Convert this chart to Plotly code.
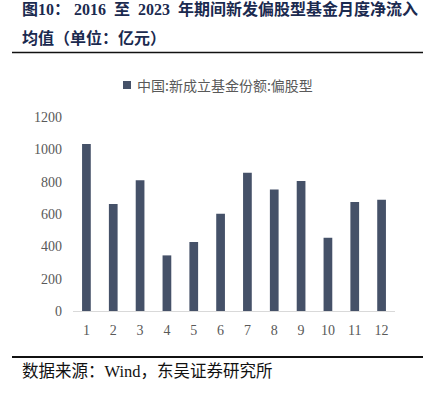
import plotly.graph_objects as go

months = ["1", "2", "3", "4", "5", "6", "7", "8", "9", "10", "11", "12"]
values = [1033, 662, 808, 344, 427, 602, 855, 752, 804, 453, 674, 688]
series_name = "中国:新成立基金份额:偏股型"
title_line1 = "图10：\u00a02016\u00a0\u00a0至\u00a0\u00a02023\u00a0\u00a0年期间新发偏股型基金月度净流入"
title_line2 = "均值（单位：亿元）"
source_text = "数据来源：Wind，东吴证券研究所"
y_ticks = [0, 200, 400, 600, 800, 1000, 1200]

W, H = 428, 393
L, T = 73, 117
R = W - 395
B = H - 311
pw, ph = W - L - R, H - T - B

def px(x):
    return (x - L) / pw

def py(y):
    return (H - B - y) / ph

serif = "Liberation Serif, 'Noto Sans CJK SC', serif"
bar_color = "#455168"

fig = go.Figure()
fig.add_trace(go.Bar(
    x=list(range(1, 13)), y=values, name=series_name,
    marker=dict(color=bar_color, line=dict(width=0)),
    showlegend=False,
))

fig.update_layout(
    width=W, height=H,
    margin=dict(l=L, r=R, t=T, b=B),
    paper_bgcolor="white", plot_bgcolor="white",
    bargap=0.675,
    xaxis=dict(range=[0.5, 12.5], tickmode="array", tickvals=list(range(1, 13)), ticktext=months,
               showgrid=False, zeroline=False, showline=True, linecolor="#d9d9d9", linewidth=1,
               ticks="", ticklabelstandoff=6,
               tickfont=dict(family=serif, size=14, color="#595959")),
    yaxis=dict(range=[0, 1200], tickmode="array", tickvals=y_ticks,
               showgrid=False, zeroline=False, showline=False, ticks="",
               ticklabelstandoff=10,
               tickfont=dict(family=serif, size=14, color="#595959")),
)

# legend (drawn as key square + label)
fig.add_shape(type="rect", xref="paper", yref="paper",
              x0=px(123), x1=px(131), y0=py(89), y1=py(81),
              fillcolor=bar_color, line=dict(width=0))
fig.add_annotation(text=series_name, xref="paper", yref="paper",
                   x=px(135), y=py(85), xanchor="left", yanchor="middle", showarrow=False,
                   font=dict(family="'Noto Sans CJK SC', sans-serif", size=14, color="#595959"))

fig.add_annotation(text="<b>" + title_line1 + "</b>", xref="paper", yref="paper",
                   x=px(20), y=py(9), xanchor="left", yanchor="middle", showarrow=False,
                   font=dict(family=serif, size=16, color="#1b2a4f"))
fig.add_annotation(text="<b>" + title_line2 + "</b>", xref="paper", yref="paper",
                   x=px(20), y=py(38), xanchor="left", yanchor="middle", showarrow=False,
                   font=dict(family=serif, size=16, color="#1b2a4f"))
fig.add_annotation(text=source_text, xref="paper", yref="paper",
                   x=px(20), y=py(371), xanchor="left", yanchor="middle", showarrow=False,
                   font=dict(family=serif, size=16.5, color="#111111"))

fig.add_shape(type="line", xref="paper", yref="paper", x0=px(12), x1=px(423), y0=py(52.5), y1=py(52.5),
              line=dict(color="#111111", width=1.5))
fig.add_shape(type="line", xref="paper", yref="paper", x0=px(12), x1=px(423), y0=py(357), y1=py(357),
              line=dict(color="#111111", width=2))

fig.write_html("out.html",
               config={"displayModeBar": False},
               post_script="document.body.style.margin='0px';document.body.style.overflow='hidden';")
